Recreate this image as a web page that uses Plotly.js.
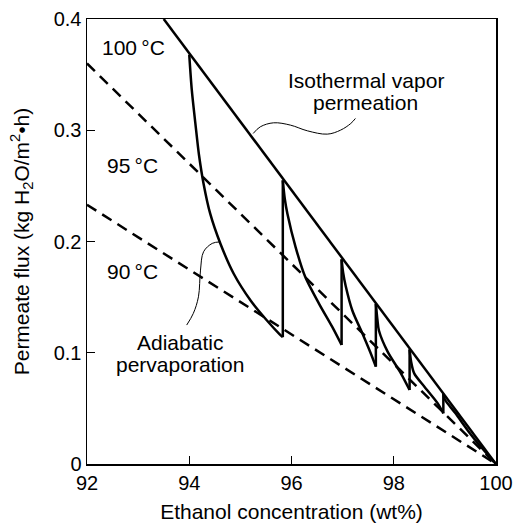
<!DOCTYPE html>
<html>
<head>
<meta charset="utf-8">
<script src="https://cdn.plot.ly/plotly-3.0.1.min.js"></script>
<style>html,body{margin:0;padding:0;background:#fff;}#chart{width:515px;height:524px;}</style>
</head>
<body>
<div id="chart"></div>
<script>
// Isothermal vapor permeation (solid straight line)
const isoX = [93.5, 100];
const isoY = [0.4, 0.0];
// 95 °C pervaporation (dashed)
const t95X = [92, 100];
const t95Y = [0.36, 0.0];
// 90 °C pervaporation (dashed)
const t90X = [92, 100];
const t90Y = [0.233, 0.0];
// Adiabatic pervaporation (sawtooth: cooling curves + reheating jumps)
const adiabX = [94.0, 94.05, 94.12, 94.19, 94.28, 94.41, 94.61, 94.87, 95.2, 95.52, 95.76, 95.83,
  95.83, 95.87, 95.92, 96.08, 96.27, 96.54, 96.8, 96.98,
  96.98, 97.01, 97.06, 97.19, 97.39, 97.58, 97.65,
  97.65, 97.68, 97.71, 97.88, 98.14, 98.31,
  98.31, 98.34, 98.4, 98.6, 98.86, 98.97,
  98.97, 99.0, 99.2, 99.5, 99.75, 100];
const adiabY = [0.368, 0.336, 0.306, 0.278, 0.252, 0.225, 0.198, 0.171, 0.147, 0.129, 0.117, 0.114,
  0.255, 0.238, 0.225, 0.195, 0.168, 0.144, 0.123, 0.107,
  0.184, 0.172, 0.160, 0.138, 0.117, 0.096, 0.0875,
  0.144, 0.130, 0.120, 0.101, 0.0815, 0.0665,
  0.103, 0.092, 0.0815, 0.0695, 0.0545, 0.0455,
  0.063, 0.058, 0.046, 0.027, 0.013, 0.0];
// Leader curves for callouts
const leadIsoX = [95.25, 95.39, 95.65, 95.98, 96.31, 96.70, 96.96, 97.16, 97.25];
const leadIsoY = [0.2971, 0.3031, 0.3067, 0.3046, 0.2995, 0.2965, 0.3001, 0.3061, 0.3106];
const leadAdX = [94.61, 94.45, 94.28, 94.22, 94.18, 94.08, 93.95];
const leadAdY = [0.1997, 0.1983, 0.1908, 0.1743, 0.1503, 0.1354, 0.1249];
// Tick values
const xTicks = [92, 94, 96, 98, 100];
const yTicks = [0, 0.1, 0.2, 0.3, 0.4];
const yTickText = ['0', '0.1', '0.2', '0.3', '0.4'];

const FONT = 'Liberation Sans, Arial, Helvetica, sans-serif';
const FS = 20;
const FA = 21;

// Split the sawtooth into smooth cooling curves and straight reheating jumps
const curveX = [], curveY = [], jumpX = [], jumpY = [];
for (let i = 0; i < adiabX.length; i++) {
  if (i > 0 && adiabX[i] === adiabX[i - 1]) {
    curveX.push(null); curveY.push(null);
    jumpX.push(adiabX[i - 1], adiabX[i], null);
    jumpY.push(adiabY[i - 1], adiabY[i], null);
  }
  curveX.push(adiabX[i]); curveY.push(adiabY[i]);
}

const traces = [
  {x: t95X, y: t95Y, mode: 'lines', line: {color: '#000', width: 2.5, dash: '11px,7px'}, hoverinfo: 'skip'},
  {x: t90X, y: t90Y, mode: 'lines', line: {color: '#000', width: 2.5, dash: '11px,7px'}, hoverinfo: 'skip'},
  {x: isoX, y: isoY, mode: 'lines', line: {color: '#000', width: 2.5}, hoverinfo: 'skip'},
  {x: curveX, y: curveY, mode: 'lines', connectgaps: false, line: {color: '#000', width: 2.5, shape: 'spline', smoothing: 0.8}, hoverinfo: 'skip'},
  {x: jumpX, y: jumpY, mode: 'lines', connectgaps: false, line: {color: '#000', width: 2.5}, hoverinfo: 'skip'},
  {x: leadIsoX, y: leadIsoY, mode: 'lines', line: {color: '#000', width: 1, shape: 'spline'}, hoverinfo: 'skip'},
  {x: leadAdX, y: leadAdY, mode: 'lines', line: {color: '#000', width: 1, shape: 'spline'}, hoverinfo: 'skip'}
];

function ann(text, x, y) {
  return {text: text, x: x, y: y, xref: 'x', yref: 'y', showarrow: false,
    font: {family: FONT, size: FA, color: '#000'}, xanchor: 'center', yanchor: 'middle'};
}

const layout = {
  width: 515, height: 524,
  margin: {l: 87, r: 19, t: 19, b: 60},
  paper_bgcolor: '#fff', plot_bgcolor: '#fff',
  showlegend: false,
  font: {family: FONT, size: FS, color: '#000'},
  xaxis: {
    range: [92, 100], tickvals: xTicks, ticktext: xTicks.map(String),
    ticks: 'inside', ticklen: 8, tickwidth: 1.2, tickcolor: '#000',
    showgrid: false, zeroline: false, showline: true, mirror: true,
    linecolor: '#000', linewidth: 1.5,
    tickfont: {family: FONT, size: FS, color: '#000'},
    title: {text: 'Ethanol concentration (wt%)', font: {family: FONT, size: FA, color: '#000'}, standoff: 12}
  },
  yaxis: {
    range: [0, 0.4], tickvals: yTicks, ticktext: yTickText,
    ticks: 'inside', ticklen: 8, tickwidth: 1.2, tickcolor: '#000',
    showgrid: false, zeroline: false, showline: true, mirror: true,
    linecolor: '#000', linewidth: 1.5,
    tickfont: {family: FONT, size: FS, color: '#000'},
    title: {text: 'Permeate flux (kg H<sub>2</sub>O/m<sup>2</sup>\u2022h)', font: {family: FONT, size: FA, color: '#000'}, standoff: 18}
  },
  annotations: [
    ann('100\u2009°C', 92.9, 0.374),
    ann('95\u2009°C', 92.89, 0.268),
    ann('90\u2009°C', 92.89, 0.1728),
    ann('Isothermal vapor', 97.45, 0.345),
    ann('permeation', 97.45, 0.3247),
    ann('Adiabatic', 93.82, 0.109),
    ann('pervaporation', 93.82, 0.0896)
  ]
};

Plotly.newPlot('chart', traces, layout, {staticPlot: true, displayModeBar: false});
</script>
</body>
</html>
